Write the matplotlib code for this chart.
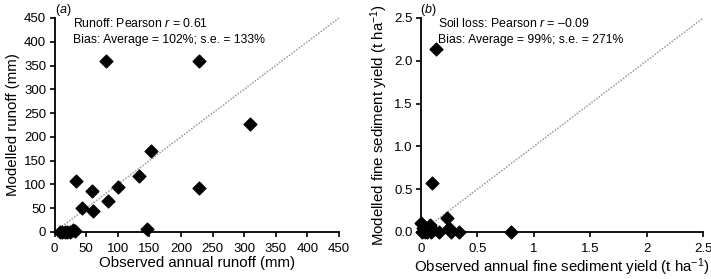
import matplotlib
matplotlib.use("Agg")
import matplotlib.pyplot as plt

plt.rcParams['font.family'] = ['Liberation Sans', 'DejaVu Sans']
plt.rcParams['mathtext.fontset'] = 'custom'
plt.rcParams['mathtext.it'] = 'Liberation Sans:italic'
plt.rcParams['mathtext.rm'] = 'Liberation Sans'

# (a) runoff, mm
obs_runoff = [81, 228, 310, 152, 34, 59, 44, 61, 84, 101, 134, 228, 147,
              8, 12, 16, 20, 25, 30, 33]
mod_runoff = [360, 360, 228, 171, 107, 87, 51, 44, 66, 95, 117, 93, 7,
              0, 0, 0, 0, 1, 4, 2]

# (b) fine sediment yield, t/ha
obs_sed = [0.13, 0.10, 0.23, 0.80, 0.34, 0.25, 0.27, 0.16, 0.08, 0.005,
           0.01, 0.03, 0.05, 0.06, 0.09, 0.11, 0.02, 0.04]
mod_sed = [2.14, 0.57, 0.16, 0.0, 0.0, 0.05, 0.0, 0.0, 0.08, 0.10,
           0.0, 0.03, 0.0, 0.01, 0.0, 0.02, 0.05, 0.0]

a_ticks = [0, 50, 100, 150, 200, 250, 300, 350, 400, 450]
b_xticks = [0, 0.5, 1, 1.5, 2, 2.5]
b_xlabels = ['0', '0.5', '1', '1.5', '2', '2.5']
b_yticks = [0, 0.5, 1.0, 1.5, 2.0, 2.5]
b_ylabels = ['0.0', '0.5', '1.0', '1.5', '2.0', '2.5']

fig = plt.figure(figsize=(7.11, 2.79), dpi=100)
ax1 = fig.add_axes([0.0767, 0.1685, 0.400, 0.767])
ax2 = fig.add_axes([0.592, 0.1685, 0.397, 0.767])


def style(ax):
    for s in ['top', 'right']:
        ax.spines[s].set_visible(False)
    for s in ['left', 'bottom']:
        ax.spines[s].set_linewidth(1.3)
        ax.spines[s].set_color('black')
    ax.tick_params(direction='out', length=3.5, width=1.2, labelsize=9.5,
                   colors='black')
    ax.tick_params(axis='x', pad=4.5)
    ax.tick_params(axis='y', pad=2.5)


# panel (a)
ax1.plot([0, 450], [0, 450], linestyle=(0, (1, 1)), color='#999999', lw=1.1, zorder=1)
ax1.scatter(obs_runoff, mod_runoff, marker='D', s=42, color='black', zorder=3, clip_on=False)
ax1.set_xlim(0, 450)
ax1.set_ylim(0, 450)
ax1.set_xticks(a_ticks)
ax1.set_yticks(a_ticks)
style(ax1)
ax1.set_xlabel('Observed annual runoff (mm)', fontsize=10.8, labelpad=1)
ax1.set_ylabel('Modelled runoff (mm)', fontsize=10.8, labelpad=3)
fig.text(55 / 711, 1 - 2 / 279, '($\\it{a}$)', fontsize=9, ha='left', va='top')
ax1.text(0.065, 0.972, 'Runoff: Pearson $r$ = 0.61', transform=ax1.transAxes,
         fontsize=8.8, va='center')
ax1.text(0.065, 0.897, 'Bias: Average = 102%; s.e. = 133%', transform=ax1.transAxes,
         fontsize=8.8, va='center')

# panel (b)
ax2.plot([0, 2.5], [0, 2.5], linestyle=(0, (1, 1)), color='#999999', lw=1.1, zorder=1)
ax2.scatter(obs_sed, mod_sed, marker='D', s=42, color='black', zorder=3, clip_on=False)
ax2.set_xlim(0, 2.5)
ax2.set_ylim(0, 2.5)
ax2.set_xticks(b_xticks)
ax2.set_xticklabels(b_xlabels)
ax2.set_yticks(b_yticks)
ax2.set_yticklabels(b_ylabels)
style(ax2)
ax2.set_xlabel('Observed annual fine sediment yield (t ha$^{-1}$)', fontsize=10.8, labelpad=1)
ax2.set_ylabel('Modelled fine sediment yield (t ha$^{-1}$)', fontsize=10.8, labelpad=3)
fig.text(420 / 711, 1 - 2 / 279, '($\\it{b}$)', fontsize=9, ha='left', va='top')
ax2.text(0.06, 0.972, 'Soil loss: Pearson $r$ = \u20130.09', transform=ax2.transAxes,
         fontsize=8.8, va='center')
ax2.text(0.06, 0.897, 'Bias: Average = 99%; s.e. = 271%', transform=ax2.transAxes,
         fontsize=8.8, va='center')

fig.savefig('out.png', dpi=100)
